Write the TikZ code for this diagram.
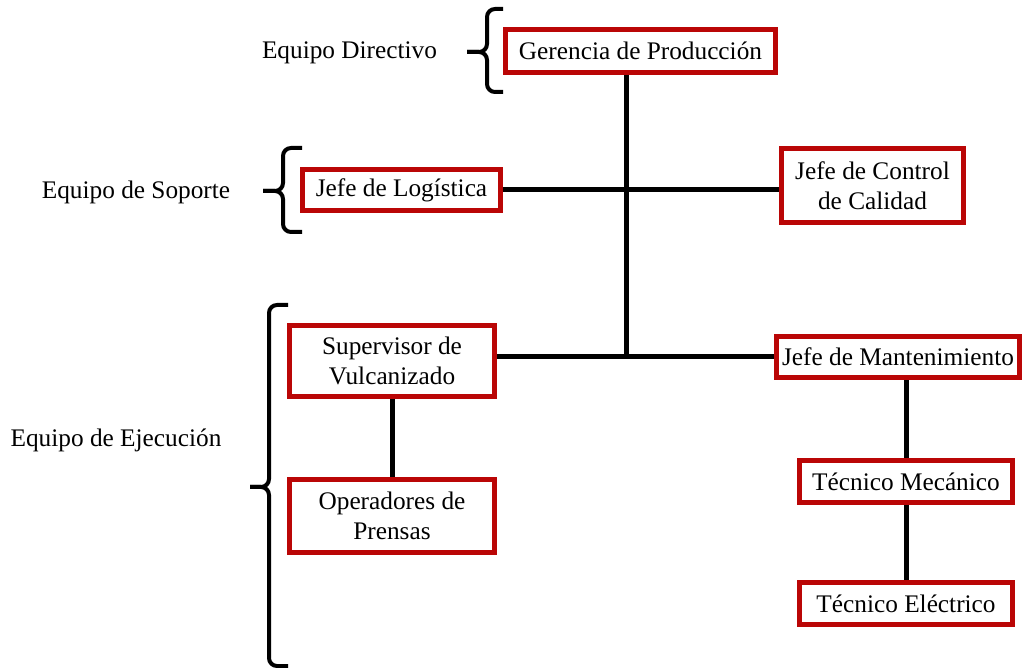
\documentclass[tikz,border=0pt]{standalone}
\usepackage{fontspec}
\setmainfont{Liberation Serif}
\definecolor{boxred}{RGB}{186,6,6}
\tikzset{
  orgbox/.style={draw=boxred, line width=2.5pt, fill=white, inner sep=0pt,
    align=center, font=\fontsize{12.65}{15}\selectfont},
  grouplabel/.style={inner sep=0pt, font=\fontsize{12.65}{15}\selectfont},
  link/.style={line width=2.5pt, line cap=butt},
  bracket/.style={line width=2pt, rounded corners=4pt}
}
% group brace: vertical x, top y, bottom y, hook end x, tip x, tip y
\newcommand\groupbrace[6]{%
  \draw[bracket] (#4,#2) -- (#1,#2) -- (#1,#6) -- (#5,#6);
  \draw[bracket] (#5,#6) -- (#1,#6) -- (#1,#3) -- (#4,#3);
}
\begin{document}
\begin{tikzpicture}[x=0.5pt, y=-0.5pt]
\useasboundingbox (0,0) rectangle (1024,668);

% boxes
\node[orgbox, minimum width=135pt, minimum height=21.5pt] (ger) at (640.5,51) {Gerencia de Producción};
\node[orgbox, minimum width=99pt, minimum height=20.5pt] (log) at (401.5,190) {Jefe de Logística};
\node[orgbox, minimum width=91pt, minimum height=37pt] (cal) at (872.5,185.5) {Jefe de Control\\de Calidad};
\node[orgbox, minimum width=102.5pt, minimum height=35.5pt] (sup) at (392,361) {Supervisor de\\Vulcanizado};
\node[orgbox, minimum width=102.5pt, minimum height=36.5pt] (ope) at (392,516) {Operadores de\\Prensas};
\node[orgbox, minimum width=121.5pt, minimum height=20.5pt] (man) at (898,357) {Jefe de Mantenimiento};
\node[orgbox, minimum width=106.5pt, minimum height=21pt] (mec) at (906,481.5) {Técnico Mecánico};
\node[orgbox, minimum width=106.5pt, minimum height=21pt] (ele) at (906,603.5) {Técnico Eléctrico};

% junctions on the main trunk
\coordinate (j1) at (626,190);
\coordinate (j2) at (626,357);

% connectors
\draw[link] (ger.south -| j2) -- (j2);
\draw[link] (log.east) -- (log.east -| cal.west);
\draw[link] (sup.east |- j2) -- (man.west);
\draw[link] (sup.south) -- (ope.north);
\draw[link] (mec.north) -- (mec.north |- man.south);
\draw[link] (mec.south) -- (ele.north);

% group labels
\node[grouplabel] (gdir) at (349.5,53) {Equipo Directivo};
\node[grouplabel] (gsop) at (136,192) {Equipo de Soporte};
\node[grouplabel] (geje) at (116,440) {Equipo de Ejecución};

% group braces
\groupbrace{487}{9}{92}{503}{467}{52}
\groupbrace{283}{148}{232}{302}{263}{191}
\groupbrace{269}{305}{666}{288}{250}{487}
\end{tikzpicture}
\end{document}
